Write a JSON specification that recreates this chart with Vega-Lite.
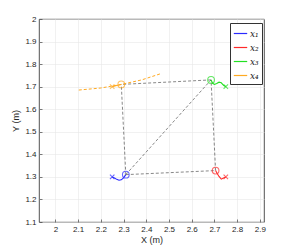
{
  "$schema": "https://vega.github.io/schema/vega-lite/v6.json",
  "width": 225,
  "height": 203,
  "autosize": {"type": "none"},
  "padding": {"left": 39, "top": 19, "right": 28, "bottom": 28},
  "background": "white",
  "config": {
    "view": {"stroke": "#262626", "strokeWidth": 0.8},
    "axis": {
      "labelFont": "Liberation Sans", "labelFontSize": 8, "labelColor": "#262626",
      "titleFont": "Liberation Sans", "titleFontSize": 9, "titleFontWeight": "normal", "titleColor": "#262626",
      "gridColor": "#e8e8e8", "gridWidth": 0.6, "domain": false,
      "tickColor": "#262626", "tickSize": -3, "tickWidth": 0.6, "labelPadding": 6,
      "labelOverlap": false, "labelFlush": false, "labelBound": false
    }
  },
  "datasets": {
    "edges": [
      {"edge": "12", "o": 0, "x": 2.31, "y": 1.31}, {"edge": "12", "o": 1, "x": 2.705, "y": 1.328},
      {"edge": "13", "o": 0, "x": 2.31, "y": 1.31}, {"edge": "13", "o": 1, "x": 2.685, "y": 1.73},
      {"edge": "14", "o": 0, "x": 2.31, "y": 1.31}, {"edge": "14", "o": 1, "x": 2.29, "y": 1.71},
      {"edge": "23", "o": 0, "x": 2.705, "y": 1.328}, {"edge": "23", "o": 1, "x": 2.685, "y": 1.73},
      {"edge": "34", "o": 0, "x": 2.685, "y": 1.73}, {"edge": "34", "o": 1, "x": 2.29, "y": 1.71}
    ],
    "orange": [
      {"o": 0, "x": 2.103, "y": 1.685}, {"o": 1, "x": 2.2, "y": 1.694}, {"o": 2, "x": 2.29, "y": 1.71},
      {"o": 3, "x": 2.38, "y": 1.73}, {"o": 4, "x": 2.465, "y": 1.758}
    ],
    "traj": [
      {"robot": "x₁", "o": 0, "x": 2.31, "y": 1.31}, {"robot": "x₁", "o": 1, "x": 2.30, "y": 1.296},
      {"robot": "x₁", "o": 2, "x": 2.29, "y": 1.287}, {"robot": "x₁", "o": 3, "x": 2.28, "y": 1.285},
      {"robot": "x₁", "o": 4, "x": 2.27, "y": 1.289}, {"robot": "x₁", "o": 5, "x": 2.26, "y": 1.295},
      {"robot": "x₁", "o": 6, "x": 2.25, "y": 1.30},
      {"robot": "x₂", "o": 0, "x": 2.705, "y": 1.328}, {"robot": "x₂", "o": 1, "x": 2.712, "y": 1.315},
      {"robot": "x₂", "o": 2, "x": 2.72, "y": 1.302}, {"robot": "x₂", "o": 3, "x": 2.73, "y": 1.29},
      {"robot": "x₂", "o": 4, "x": 2.74, "y": 1.295}, {"robot": "x₂", "o": 5, "x": 2.75, "y": 1.30},
      {"robot": "x₃", "o": 0, "x": 2.685, "y": 1.73}, {"robot": "x₃", "o": 1, "x": 2.692, "y": 1.715},
      {"robot": "x₃", "o": 2, "x": 2.70, "y": 1.71}, {"robot": "x₃", "o": 3, "x": 2.71, "y": 1.714},
      {"robot": "x₃", "o": 4, "x": 2.72, "y": 1.72}, {"robot": "x₃", "o": 5, "x": 2.73, "y": 1.717},
      {"robot": "x₃", "o": 6, "x": 2.74, "y": 1.706}, {"robot": "x₃", "o": 7, "x": 2.75, "y": 1.70},
      {"robot": "x₄", "o": 0, "x": 2.29, "y": 1.71}, {"robot": "x₄", "o": 1, "x": 2.27, "y": 1.705},
      {"robot": "x₄", "o": 2, "x": 2.25, "y": 1.70}
    ]
  },
  "layer": [
    {
      "data": {"name": "edges"},
      "mark": {"type": "line", "color": "#555555", "strokeWidth": 0.7, "strokeDash": [3, 2]},
      "encoding": {
        "x": {"field": "x", "type": "quantitative", "scale": {"domain": [1.928, 2.918], "nice": false, "zero": false},
              "axis": {"values": [2, 2.1, 2.2, 2.3, 2.4, 2.5, 2.6, 2.7, 2.8, 2.9], "tickCount": 20, "format": "~g", "title": "X (m)", "titlePadding": 2}},
        "y": {"field": "y", "type": "quantitative", "scale": {"domain": [1.1, 2.0], "nice": false, "zero": false},
              "axis": {"values": [1.1, 1.2, 1.3, 1.4, 1.5, 1.6, 1.7, 1.8, 1.9, 2.0], "tickCount": 20, "format": "~g", "title": "Y (m)", "titlePadding": 4}},
        "detail": {"field": "edge"},
        "order": {"field": "o"}
      }
    },
    {
      "data": {"name": "orange"},
      "mark": {"type": "line", "color": "#ffaa22", "strokeWidth": 1, "strokeDash": [3, 2]},
      "encoding": {
        "x": {"field": "x", "type": "quantitative"},
        "y": {"field": "y", "type": "quantitative"},
        "order": {"field": "o"}
      }
    },
    {
      "data": {"name": "traj"},
      "mark": {"type": "line", "strokeWidth": 1.1},
      "encoding": {
        "x": {"field": "x", "type": "quantitative"},
        "y": {"field": "y", "type": "quantitative"},
        "order": {"field": "o"},
        "color": {
          "field": "robot", "type": "nominal",
          "scale": {"domain": ["x₁", "x₂", "x₃", "x₄"], "range": ["#2a2aff", "#ff2a2a", "#22e022", "#ffaa22"]},
          "legend": {
            "title": null, "orient": "none", "legendX": 191, "legendY": 4,
            "symbolType": "stroke", "symbolSize": 180, "symbolStrokeWidth": 1.2,
            "labelFont": "DejaVu Serif", "labelFontStyle": "italic", "labelFontSize": 9, "labelColor": "#222",
            "strokeColor": "#333333", "fillColor": "white", "padding": 3, "rowPadding": 1, "labelOffset": 2
          }
        }
      }
    },
    {
      "data": {"name": "traj"},
      "transform": [{"filter": "datum.o == 0"}],
      "mark": {"type": "point", "shape": "circle", "filled": false, "size": 45, "strokeWidth": 1.1},
      "encoding": {
        "x": {"field": "x", "type": "quantitative"},
        "y": {"field": "y", "type": "quantitative"},
        "color": {"field": "robot", "type": "nominal", "legend": null}
      }
    },
    {
      "data": {"name": "traj"},
      "transform": [
        {"joinaggregate": [{"op": "max", "field": "o", "as": "maxo"}], "groupby": ["robot"]},
        {"filter": "datum.o == datum.maxo"}
      ],
      "mark": {"type": "point", "shape": "M-1,-1L1,1M-1,1L1,-1", "filled": false, "size": 20, "strokeWidth": 1.1},
      "encoding": {
        "x": {"field": "x", "type": "quantitative"},
        "y": {"field": "y", "type": "quantitative"},
        "color": {"field": "robot", "type": "nominal", "legend": null}
      }
    }
  ]
}
